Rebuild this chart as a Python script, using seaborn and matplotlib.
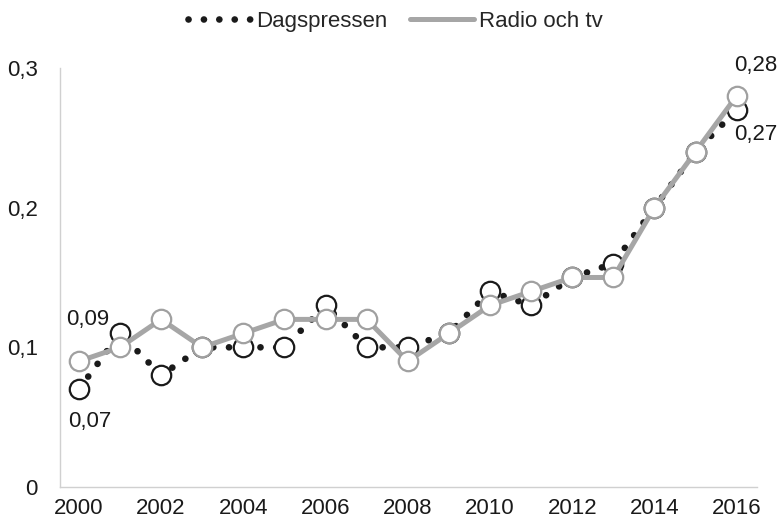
import matplotlib
matplotlib.use("Agg")
import matplotlib.pyplot as plt
import seaborn as sns
import pandas as pd
from matplotlib.ticker import FuncFormatter
from matplotlib.lines import Line2D

years = list(range(2000, 2017))
dagspressen = [0.07, 0.11, 0.08, 0.10, 0.10, 0.10, 0.13, 0.10, 0.10, 0.11, 0.14, 0.13, 0.15, 0.16, 0.20, 0.24, 0.27]
radio_tv = [0.09, 0.10, 0.12, 0.10, 0.11, 0.12, 0.12, 0.12, 0.09, 0.11, 0.13, 0.14, 0.15, 0.15, 0.20, 0.24, 0.28]
x_ticks = [2000, 2002, 2004, 2006, 2008, 2010, 2012, 2014, 2016]
y_ticks = [0, 0.1, 0.2, 0.3]

sns.set_theme(style="white")
plt.rcParams['font.family'] = ['Liberation Sans', 'DejaVu Sans']

df = pd.DataFrame({"year": years, "Dagspressen": dagspressen, "Radio och tv": radio_tv})

fig = plt.figure(figsize=(7.81, 5.29), dpi=100)
ax = fig.add_axes([0.0768, 0.0794, 0.969 - 0.0768, 0.8715 - 0.0794])

FS = 16
TC = "#1a1a1a"
GREY = "#a6a6a6"

sns.lineplot(data=df, x="year", y="Dagspressen", ax=ax, color=TC,
             linewidth=4.8, linestyle=(0, (0.01, 2.35)), dash_capstyle="round",
             marker="o", markersize=14, markerfacecolor="white",
             markeredgecolor=TC, markeredgewidth=1.6, label="Dagspressen", zorder=3)
sns.lineplot(data=df, x="year", y="Radio och tv", ax=ax, color=GREY,
             linewidth=3.6, marker="o", markersize=14, markerfacecolor="white",
             markeredgecolor="#a0a0a0", markeredgewidth=1.6, label="Radio och tv", zorder=4)

ax.set_xlim(1999.54, 2016.49)
ax.set_ylim(0, 0.3)
ax.set_xticks(x_ticks)
ax.set_yticks(y_ticks)
ax.yaxis.set_major_formatter(FuncFormatter(lambda v, p: "0" if v == 0 else f"{v:.1f}".replace(".", ",")))
ax.tick_params(axis="both", labelsize=FS, colors=TC, length=0)
ax.tick_params(axis="x", pad=8)
ax.tick_params(axis="y", pad=16)
ax.set_xlabel("")
ax.set_ylabel("")
for s in ["top", "right"]:
    ax.spines[s].set_visible(False)
for s in ["left", "bottom"]:
    ax.spines[s].set_color("#d0d0d0")
    ax.spines[s].set_linewidth(1.0)

fmt = lambda v: f"{v:.2f}".replace(".", ",")
ax.annotate(fmt(radio_tv[0]), (years[0], radio_tv[0]), xytext=(-9.5, 30), textcoords="offset points",
            ha="left", va="center", fontsize=FS, color=TC)
ax.annotate(fmt(dagspressen[0]), (years[0], dagspressen[0]), xytext=(-8, -23), textcoords="offset points",
            ha="left", va="center", fontsize=FS, color=TC)
ax.annotate(fmt(radio_tv[-1]), (years[-1], radio_tv[-1]), xytext=(-1.5, 22), textcoords="offset points",
            ha="left", va="center", fontsize=FS, color=TC)
ax.annotate(fmt(dagspressen[-1]), (years[-1], dagspressen[-1]), xytext=(-1.5, -18), textcoords="offset points",
            ha="left", va="center", fontsize=FS, color=TC)

handles = [Line2D([0], [0], color=TC, linewidth=4.8, linestyle=(0, (0.01, 2.3)), dash_capstyle="round"),
           Line2D([0], [0], color=GREY, linewidth=3.6)]
ax.legend(handles, ["Dagspressen", "Radio och tv"], loc="center", bbox_to_anchor=(0.481, 1.112),
          ncol=2, frameon=False, fontsize=FS, handlelength=2.9, handletextpad=0.2, columnspacing=1.0,
          borderpad=0, borderaxespad=0)

fig.savefig("out.png", dpi=100)
